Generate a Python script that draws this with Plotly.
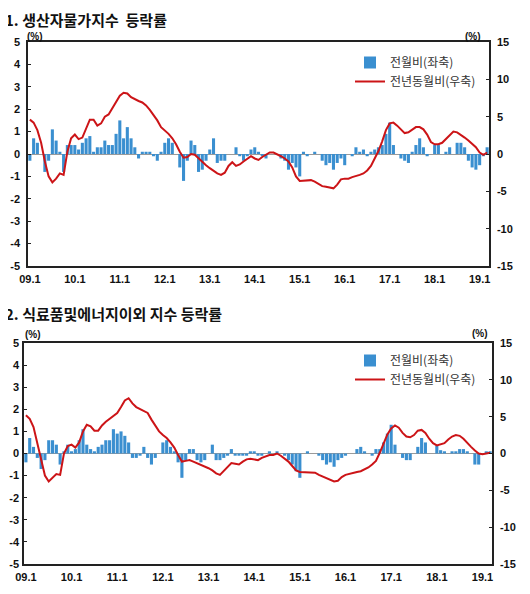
import plotly.graph_objects as go

# ---- data -------------------------------------------------------------
months = [f"{y:02d}.{m}" for y in range(9, 20) for m in range(1, 13)][:123]   # 09.1 .. 19.3
tick_labels = [f"{y:02d}.1" for y in range(9, 20)]
left_ticks = [-5, -4, -3, -2, -1, 0, 1, 2, 3, 4, 5]
left_tick_text = ["-5", "-4", "-3", "-2", "-1", "0", "1", "2", "3", "4", "5"]
right_ticks = [-15, -10, -5, 0, 5, 10, 15]
right_tick_text = ["-15", "-10", "-5", "0", "5", "10", "15"]

# 1. 생산자물가지수
ppi_mom = [-0.3, 0.7, 0.5, 0.0, -0.8, -0.3, 1.1, 0.6, 0.1, -0.8,
           0.4, 0.4, 0.4, 0.2, 0.5, 0.7, 0.8, 0.1, 0.3, 0.3,
           0.6, 0.4, 0.4, 0.9, 1.5, 0.7, 1.2, 0.7, 0.3, -0.2,
           0.1, 0.1, 0.1, -0.1, -0.3, 0.1, 0.5, 0.7, 0.5, 0.0,
           -0.6, -1.2, -0.3, 0.6, 0.4, -0.8, -0.7, -0.3, 0.2, 0.7,
           -0.4, -0.3, -0.3, 0.0, 0.0, 0.3, -0.1, -0.3, -0.1, 0.2,
           0.3, 0.1, -0.1, -0.2, 0.0, 0.0, 0.0, -0.2, -0.3, -0.7,
           -0.4, -0.6, -1.0, 0.1, -0.1, 0.0, 0.1, 0.0, -0.3, -0.5,
           -0.4, -0.7, -0.4, -0.2, -0.5, 0.0, -0.1, 0.3, 0.1, 0.2,
           -0.1, 0.1, 0.2, 0.3, 0.4, 0.9, 1.4, 0.4, 0.0, -0.2,
           -0.3, -0.4, 0.1, 0.4, 0.7, 0.3, -0.1, 0.0, 0.4, 0.4,
           0.0, 0.1, 0.3, 0.0, 0.5, 0.5, 0.3, -0.3, -0.6, -0.7,
           -0.5, -0.1, 0.3]
ppi_yoy = [4.6, 4.2, 3.2, 1.5, -1.0, -3.0, -3.8, -3.3, -2.6, -2.8,
           0.3, 2.1, 2.6, 2.0, 2.2, 3.3, 4.6, 4.6, 3.8, 4.1,
           5.0, 5.3, 6.2, 7.1, 7.8, 8.2, 8.1, 7.6, 7.3, 7.1,
           6.9, 6.5, 5.9, 5.2, 4.5, 3.6, 3.2, 2.7, 2.1, 1.3,
           0.3, -0.5, -0.4, 0.0, -0.1, -0.6, -1.1, -1.5, -1.9, -2.3,
           -2.6, -2.8, -2.5, -1.6, -1.1, -1.6, -1.4, -1.0, -0.6, -0.3,
           -0.6, -0.8, -0.4, -0.1, 0.2, 0.2, 0.0, -0.3, -0.6, -1.0,
           -1.8, -3.0, -3.6, -3.6, -3.5, -3.5, -3.7, -4.0, -4.3, -4.4,
           -4.5, -4.6, -4.1, -3.4, -3.3, -3.3, -3.1, -3.0, -2.8, -2.6,
           -2.2, -1.6, -0.7, 0.4, 1.7, 3.2, 4.1, 4.2, 3.8, 3.3,
           2.8, 2.9, 3.3, 3.6, 3.6, 3.3, 2.6, 1.6, 1.3, 1.3,
           1.5, 2.0, 2.6, 3.0, 2.9, 2.6, 2.2, 1.8, 1.4, 0.9,
           0.2, -0.1, 0.2]

# 2. 식료품및에너지이외 지수
core_mom = [-0.4, 0.7, 0.3, -0.2, -0.7, -0.3, 0.6, 0.6, 0.4, -0.5,
            0.1, 0.4, 0.1, 0.2, 0.6, 1.1, 0.4, 0.2, 0.1, 0.3,
            0.4, 0.6, 0.6, 1.1, 0.9, 1.0, 0.8, 0.5, -0.2, -0.2,
            -0.1, 0.3, -0.2, -0.5, -0.2, 0.0, 0.5, 0.6, 0.3, 0.1,
            -0.4, -1.1, -0.3, 0.2, 0.2, -0.3, -0.4, -0.3, 0.0, 0.4,
            -0.3, -0.3, -0.2, -0.1, 0.2, -0.1, -0.1, -0.1, -0.1, 0.1,
            0.1, -0.1, -0.1, 0.0, 0.1, 0.0, 0.1, 0.0, -0.1, -0.3,
            -0.5, -0.8, -1.1, 0.0, 0.1, 0.0, 0.0, -0.1, -0.3, -0.5,
            -0.4, -0.6, -0.3, -0.2, -0.1, 0.0, 0.0, 0.2, 0.3, 0.1,
            0.0, -0.1, 0.2, 0.2, 0.5, 0.9, 1.3, 0.4, 0.0, -0.2,
            -0.3, -0.3, 0.0, 0.3, 0.7, 0.5, 0.0, 0.0, 0.35, 0.15,
            0.1, 0.0, 0.1, 0.1, 0.2, 0.2, 0.1, 0.0, -0.5, -0.5,
            0.0, 0.1, 0.1]
core_yoy = [5.2, 4.7, 3.6, 1.5, -1.0, -3.0, -3.8, -3.3, -2.8, -2.9,
            0.0, 1.0, 1.2, 0.8, 1.5, 3.0, 3.9, 3.7, 3.1, 3.1,
            3.8, 4.3, 4.7, 5.0, 5.5, 6.3, 7.2, 7.5, 6.8, 6.3,
            6.0, 5.8, 5.5, 4.6, 3.7, 3.0, 2.5, 2.1, 1.5, 0.8,
            -0.2, -1.1, -1.0, -0.9, -1.1, -1.3, -1.6, -1.8, -2.0, -2.3,
            -2.7, -2.9, -2.4, -1.8, -1.3, -1.4, -1.5, -1.1, -0.8, -0.7,
            -0.8, -0.9, -0.6, -0.4, -0.2, -0.2, 0.0, -0.3, -0.7, -1.1,
            -1.7, -2.3, -2.5, -2.5, -2.6, -2.6, -2.6, -2.9, -3.1, -3.4,
            -3.6, -3.8, -3.7, -3.2, -2.9, -2.8, -2.7, -2.5, -2.4, -2.2,
            -1.9, -1.5, -1.0, 0.1, 1.3, 2.6, 3.4, 3.8, 3.5, 2.8,
            2.3, 2.2, 2.5, 3.1, 3.2, 2.8, 2.0, 1.4, 1.1, 1.2,
            1.4, 1.9, 2.3, 2.5, 2.4, 2.0, 1.4, 0.9, 0.4, 0.0,
            -0.1, 0.0, 0.1]

# ---- styling ----------------------------------------------------------
PAGE_W, PAGE_H = 530, 594
OFF = 8                      # default body margin of the html page
W, H = PAGE_W - OFF, PAGE_H - OFF
BAR = "#3a8fd0"
LINE = "#cc1417"
NUM_FONT = "Liberation Sans, Arial, sans-serif"
KR_FONT = "Noto Sans CJK KR, sans-serif"


def fx(p):                   # page x pixel -> paper fraction
    return (p - OFF) / W


def fy(p):                   # page y pixel -> paper fraction
    return 1 - (p - OFF) / H


fig = go.Figure()

fig.add_trace(go.Bar(x=months, y=ppi_mom, name="전월비(좌축)", marker_color=BAR,
                     marker_line_width=0, xaxis="x", yaxis="y", legend="legend"))
fig.add_trace(go.Scatter(x=months, y=ppi_yoy, name="전년동월비(우축)", mode="lines",
                         line=dict(color=LINE, width=2), xaxis="x", yaxis="y2",
                         legend="legend"))
fig.add_trace(go.Bar(x=months, y=core_mom, name="전월비(좌축)", marker_color=BAR,
                     marker_line_width=0, xaxis="x2", yaxis="y3", legend="legend2"))
fig.add_trace(go.Scatter(x=months, y=core_yoy, name="전년동월비(우축)", mode="lines",
                         line=dict(color=LINE, width=2), xaxis="x2", yaxis="y4",
                         legend="legend2"))

num_tick = dict(family=NUM_FONT, size=11, color="#111", weight="bold")


def xax(domain, anchor):
    return dict(domain=domain, anchor=anchor, type="category",
                categoryorder="array", categoryarray=months,
                range=[-0.5, len(months) - 0.5],
                tickmode="array", tickvals=tick_labels, ticktext=tick_labels,
                showline=True, linecolor="#222", linewidth=1.5, mirror=True,
                ticks="", showgrid=False, zeroline=False,
                tickfont=num_tick, ticklabelstandoff=2)


def yleft(domain, anchor, standoff):
    return dict(domain=domain, anchor=anchor, range=[-5, 5],
                tickmode="array", tickvals=left_ticks, ticktext=left_tick_text,
                showline=True, linecolor="#222", linewidth=1.5,
                ticks="inside", ticklen=3, tickcolor="#222",
                showgrid=False, zeroline=True, zerolinecolor="#9a9a9a",
                zerolinewidth=1, tickfont=num_tick, ticklabelstandoff=standoff)


def yright(domain, anchor, over):
    return dict(domain=domain, anchor=anchor, overlaying=over, side="right",
                range=[-15, 15],
                tickmode="array", tickvals=right_ticks, ticktext=right_tick_text,
                showline=True, linecolor="#222", linewidth=1.5,
                ticks="inside", ticklen=3, tickcolor="#222",
                showgrid=False, zeroline=False, tickfont=num_tick,
                ticklabelstandoff=4)


d1x, d1y = [fx(28), fx(489)], [fy(266), fy(42)]
d2x, d2y = [fx(24), fx(492)], [fy(564), fy(343)]

legend_style = dict(xanchor="left", yanchor="top", bgcolor="rgba(0,0,0,0)",
                    traceorder="normal",
                    font=dict(family=KR_FONT, size=12, color="#333"),
                    itemwidth=30, tracegroupgap=0)

fig.update_layout(
    width=W, height=H,
    margin=dict(l=0, r=0, t=0, b=0, autoexpand=False),
    paper_bgcolor="white", plot_bgcolor="white",
    bargap=0.18,
    xaxis=xax(d1x, "y"),
    yaxis=yleft(d1y, "x", 4),
    yaxis2=yright(d1y, "x", "y"),
    xaxis2=xax(d2x, "y3"),
    yaxis3=yleft(d2y, "x2", 1),
    yaxis4=yright(d2y, "x2", "y3"),
    legend=dict(x=fx(350), y=fy(48), **legend_style),
    legend2=dict(x=fx(350), y=fy(346), **legend_style),
    showlegend=True,
)

title_font = dict(family=KR_FONT, size=15, color="#111", weight="bold")
unit_font = dict(family=NUM_FONT, size=10, color="#111", weight="bold")
annos = [
    dict(text="1. 생산자물가지수  등락률", x=fx(4), y=fy(8), yanchor="top",
         width=220, align="left", borderpad=0, font=title_font),
    dict(text="2. 식료품및에너지이외 지수 등락률", x=fx(4), y=fy(302), yanchor="top",
         width=290, align="left", borderpad=0, font=title_font),
    dict(text="(%)", x=fx(26), y=fy(30), yanchor="top", borderpad=0, font=unit_font),
    dict(text="(%)", x=fx(464), y=fy(30), yanchor="top", borderpad=0, font=unit_font),
    dict(text="(%)", x=fx(24), y=fy(328), yanchor="top", borderpad=0, font=unit_font),
    dict(text="(%)", x=fx(471), y=fy(327), yanchor="top", borderpad=0, font=unit_font),
]
for a in annos:
    fig.add_annotation(xref="paper", yref="paper", xanchor="left",
                       showarrow=False, **a)

fig.write_html("out.html")
